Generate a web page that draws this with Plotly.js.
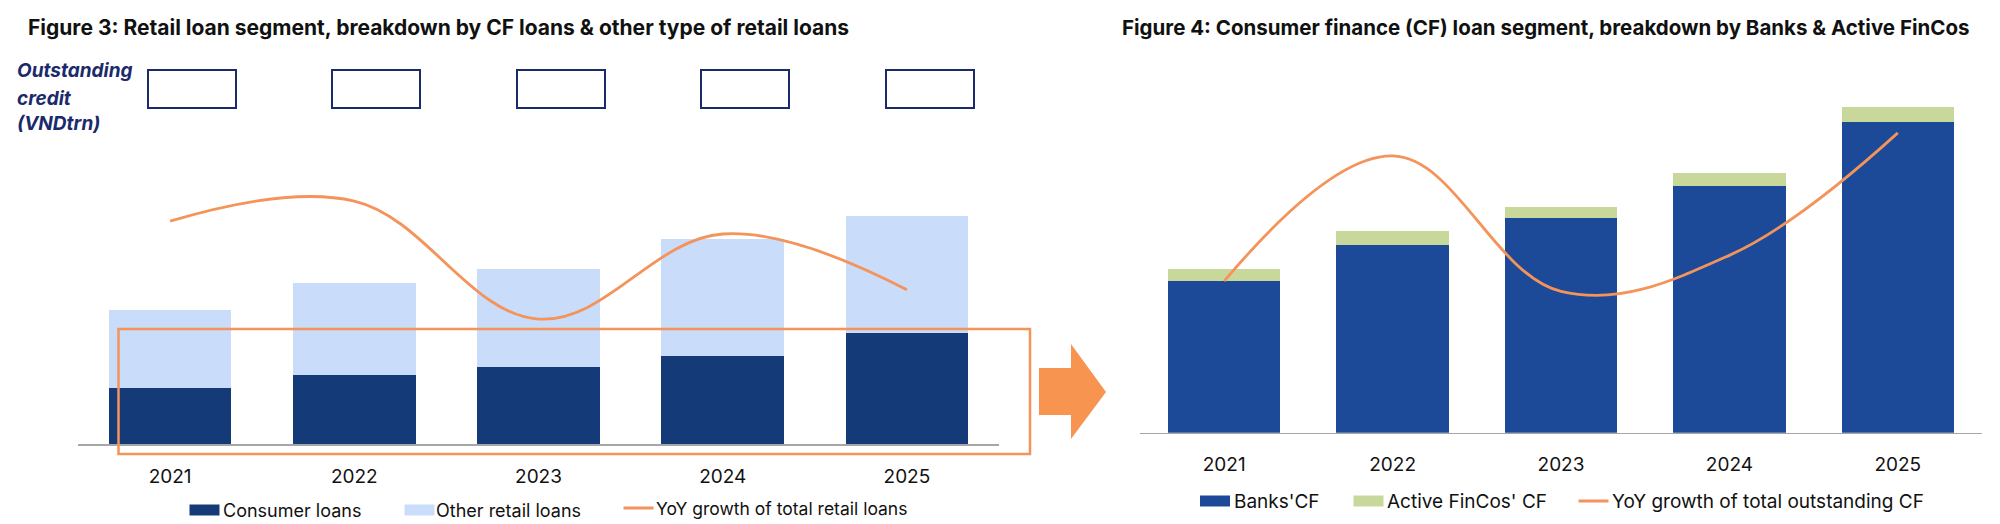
<!DOCTYPE html>
<html>
<head>
<meta charset="utf-8">
<script src="https://cdn.plot.ly/plotly-3.0.1.min.js"></script>
<style>html,body{margin:0;padding:0;background:#fff;}#chart{width:2000px;height:524px;}</style>
</head>
<body>
<div id="chart"></div>
<script>
// ---- Data (units: VNDtrn, growth in %) ----
var years = ["2021", "2022", "2023", "2024", "2025"];
// Figure 3
var consumerLoans = [1120, 1390, 1545, 1770, 2240];
var otherRetailLoans = [1575, 1850, 1975, 2345, 2340];
var retailGrowth = [24.4, 26.6, 13.7, 23.0, 16.9];
// Figure 4
var banksCF = [1550, 1915, 2190, 2515, 3175];
var finCosCF = [120, 140, 115, 140, 150];
var cfGrowth = [17.7, 32.3, 16.5, 20.7, 35.0];
// side label lines
var sideLabel = ["Outstanding", "credit", "(VNDtrn)"];

// ---- helpers: pixel -> paper ----
var W = 2000, H = 524;
function px(x) { return x / W; }
function py(y) { return 1 - y / H; }

var FONT = "Inter, 'Open Sans', 'Liberation Sans', sans-serif";
var ORANGE = "#f4935a";
var NAVY = "#1b2a6b";

var traces = [
  {type: "bar", x: years, y: consumerLoans, name: "Consumer loans", width: 0.665,
   marker: {color: "#143a78"}, xaxis: "x", yaxis: "y"},
  {type: "bar", x: years, y: otherRetailLoans, name: "Other retail loans", width: 0.665,
   marker: {color: "#c9ddfb"}, xaxis: "x", yaxis: "y"},
  {type: "scatter", mode: "lines", x: years, y: retailGrowth, name: "YoY growth of total retail loans",
   line: {color: ORANGE, width: 2.8, shape: "spline", smoothing: 1.1}, xaxis: "x", yaxis: "y3"},
  {type: "bar", x: years, y: banksCF, name: "Banks'CF", width: 0.668,
   marker: {color: "#1c4a98"}, xaxis: "x2", yaxis: "y2"},
  {type: "bar", x: years, y: finCosCF, name: "Active FinCos' CF", width: 0.668,
   marker: {color: "#c8d89b"}, xaxis: "x2", yaxis: "y2"},
  {type: "scatter", mode: "lines", x: years, y: cfGrowth, name: "YoY growth of total outstanding CF",
   line: {color: ORANGE, width: 2.8, shape: "spline", smoothing: 1.1}, xaxis: "x2", yaxis: "y4"}
];

var xCommon = {
  type: "category", showline: true, linecolor: "#a6a6a6", linewidth: 1.5,
  showgrid: false, zeroline: false, ticks: "", ticklabelstandoff: 14,
  tickfont: {family: FONT, size: 19, color: "#111"}, fixedrange: true
};
function yHidden(o) {
  return Object.assign({showgrid: false, zeroline: false, showticklabels: false, showline: false, ticks: "", fixedrange: true}, o);
}

var shapes = [];
var annotations = [];

// empty "Outstanding credit" boxes
[148, 332, 517, 701, 886].forEach(function (x0) {
  shapes.push({type: "rect", xref: "paper", yref: "paper", x0: px(x0), x1: px(x0 + 88), y0: py(108), y1: py(70),
               line: {color: NAVY, width: 2}, fillcolor: "rgba(0,0,0,0)"});
});

// custom legends (symbol x-start, text x-start), built from the traces
function legendItem(tr, symX, textX, cy, fs) {
  if (tr.type === "bar") {
    shapes.push({type: "rect", xref: "paper", yref: "paper", x0: px(symX), x1: px(symX + 30), y0: py(cy + 5.5), y1: py(cy - 5.5),
                 line: {width: 0}, fillcolor: tr.marker.color});
  } else {
    shapes.push({type: "line", xref: "paper", yref: "paper", x0: px(symX), x1: px(symX + 30), y0: py(cy), y1: py(cy),
                 line: {color: tr.line.color, width: 3}});
  }
  annotations.push({xref: "paper", yref: "paper", x: px(textX), y: py(cy), xanchor: "left", yanchor: "middle",
                    showarrow: false, text: tr.name, font: {family: FONT, size: fs, color: "#111"}});
}
legendItem(traces[0], 189.5, 221, 510, 18);
legendItem(traces[1], 404.5, 434, 510, 18);
legendItem(traces[2], 623.5, 654, 508, 17.5);
legendItem(traces[3], 1200, 1232, 501, 19);
legendItem(traces[4], 1353.5, 1385, 501, 19);
legendItem(traces[5], 1578.5, 1610, 501, 19);

// titles and side label
annotations.push(
  {xref: "paper", yref: "paper", x: px(26), y: py(28), xanchor: "left", yanchor: "middle", showarrow: false,
   text: "<b>Figure 3: Retail loan segment, breakdown by CF loans & other type of retail loans</b>",
   font: {family: FONT, size: 21, color: "#111"}},
  {xref: "paper", yref: "paper", x: px(1120), y: py(28), xanchor: "left", yanchor: "middle", showarrow: false,
   text: "<b>Figure 4: Consumer finance (CF) loan segment, breakdown by Banks & Active FinCos</b>",
   font: {family: FONT, size: 20.5, color: "#111"}}
);
[70, 98, 123.5].forEach(function (cy, i) {
  annotations.push({xref: "paper", yref: "paper", x: px(15), y: py(cy), xanchor: "left", yanchor: "middle",
                    showarrow: false, text: "<b><i>" + sideLabel[i] + "</i></b>",
                    font: {family: FONT, size: 19, color: NAVY}});
});

// orange highlight box and arrow
var arrowPath = "M" + px(1039) + "," + py(368) + " L" + px(1071) + "," + py(368) + " L" + px(1071) + "," + py(344) +
  " L" + px(1106) + "," + py(392) + " L" + px(1071) + "," + py(439) + " L" + px(1071) + "," + py(415) +
  " L" + px(1039) + "," + py(415) + " Z";
shapes.push(
  {type: "rect", xref: "paper", yref: "paper", x0: px(118.5), x1: px(1030), y0: py(454), y1: py(329),
   line: {color: ORANGE, width: 2.5}, fillcolor: "rgba(0,0,0,0)", layer: "above"},
  {type: "path", xref: "paper", yref: "paper", path: arrowPath, fillcolor: "#f79550", line: {width: 0}}
);

var layout = {
  width: W, height: H, margin: {l: 0, r: 0, t: 0, b: 0},
  paper_bgcolor: "#fff", plot_bgcolor: "rgba(0,0,0,0)",
  barmode: "stack", showlegend: false,
  font: {family: FONT, size: 18, color: "#111"},
  xaxis: Object.assign({}, xCommon, {domain: [px(78), px(999)], anchor: "y"}),
  yaxis: yHidden({domain: [py(444.3), py(170)], range: [0, 5500]}),
  yaxis3: yHidden({overlaying: "y", range: [0, 30]}),
  xaxis2: Object.assign({}, xCommon, {domain: [px(1140), px(1982)], anchor: "y2"}),
  yaxis2: yHidden({domain: [py(432.7), py(90)], range: [0, 3500]}),
  yaxis4: yHidden({overlaying: "y2", range: [0, 40]}),
  annotations: annotations,
  shapes: shapes
};

Plotly.newPlot("chart", traces, layout, {displayModeBar: false, staticPlot: true});
</script>
</body>
</html>
